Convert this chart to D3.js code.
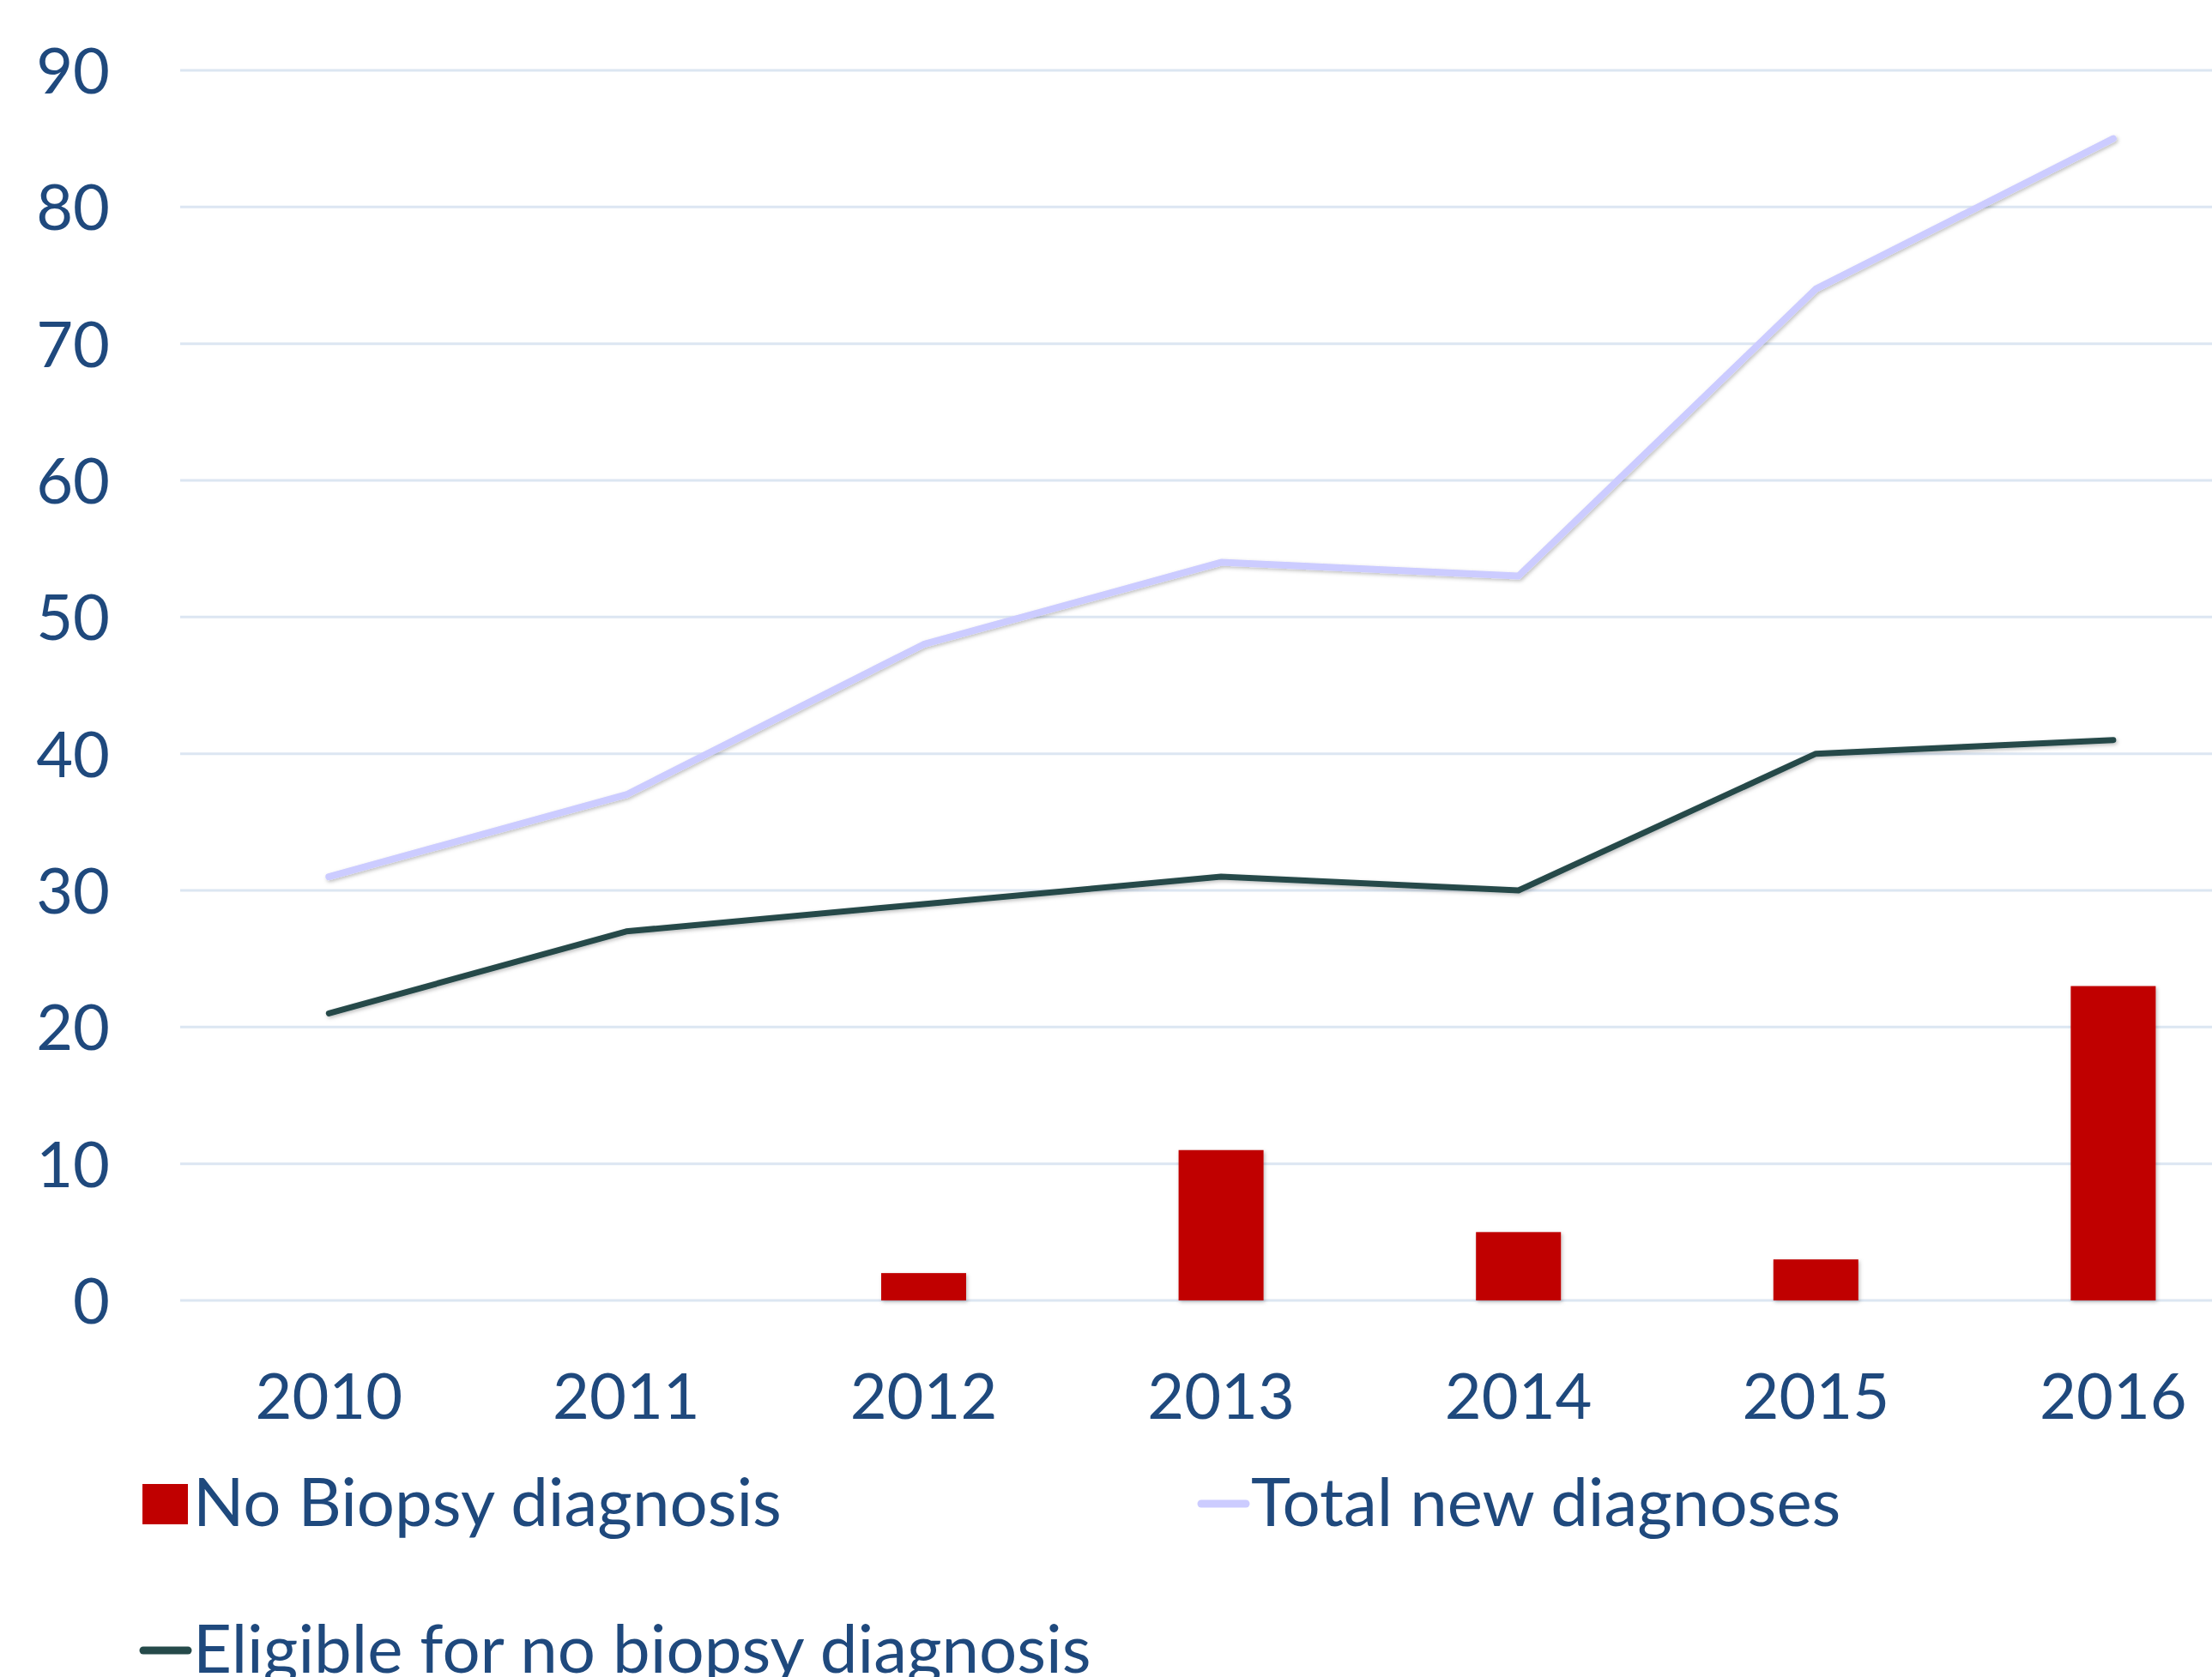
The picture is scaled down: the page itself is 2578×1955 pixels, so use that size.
<!DOCTYPE html>
<html>
<head>
<meta charset="utf-8">
<script src="https://cdn.jsdelivr.net/npm/d3@7"></script>
<style>
	body{ margin: 0; background: #fff; }
	svg text{ font-family: Lato, "Open Sans", sans-serif; fill: #1F497D; }
</style>
</head>
<body>
<div id="chart"></div>
<script>
	const years = ["2010","2011","2012","2013","2014","2015","2016"];
	const noBiopsy = [0, 0, 2, 11, 5, 3, 23];
	const totalNew = [31, 37, 48, 54, 53, 74, 85];
	const eligible = [21, 27, 29, 31, 30, 40, 41];
	const yTicks = [0,10,20,30,40,50,60,70,80,90];

	const W = 2578, H = 1955;
	const margin = {top: 82, left: 210};
	const bandW = 346.6;

	let svg = d3.select("#chart").append("svg")
		.attr("width", W).attr("height", H);

	const defs = svg.append("defs");
	defs.append("filter").attr("id","shadow")
		.attr("x","-20%").attr("y","-20%").attr("width","140%").attr("height","140%")
		.append("feDropShadow")
			.attr("dx",1.5).attr("dy",2).attr("stdDeviation",2)
			.attr("flood-color","#000").attr("flood-opacity",0.25);

	let x = d3.scaleBand().domain(years)
		.range([margin.left, margin.left + bandW*years.length]);
	let y = d3.scaleLinear().domain([0, 90]).range([1516, margin.top]);

	// gridlines
	svg.append("g")
		.selectAll("line").data(yTicks).enter().append("line")
			.attr("x1", margin.left).attr("x2", W)
			.attr("y1", d => y(d)).attr("y2", d => y(d))
			.attr("stroke", "#DCE6F2").attr("stroke-width", 3);

	// y axis labels
	let yAxis = svg.append("g")
		.attr("transform", "translate(128,0)")
		.call(d3.axisLeft(y).tickValues(yTicks).tickSize(0).tickPadding(0));
	yAxis.select(".domain").remove();
	yAxis.selectAll("text")
		.attr("font-size", 74).attr("dy", "0.36em")
		.style("font-family", "Lato, sans-serif").attr("fill", "#1F497D");

	// x axis labels
	let xAxis = svg.append("g")
		.attr("transform", "translate(0,1654)")
		.call(d3.axisBottom(x).tickSize(0).tickPadding(0));
	xAxis.select(".domain").remove();
	xAxis.selectAll("text")
		.attr("font-size", 74).attr("dy", 0).attr("y", 0)
		.style("font-family", "Lato, sans-serif").attr("fill", "#1F497D");

	// bars
	const barW = 99;
	svg.append("g").selectAll("rect")
		.data(years.map((yr,i)=>({yr, v: noBiopsy[i]})).filter(d => d.v > 0))
		.enter().append("rect")
			.attr("x", d => x(d.yr) + x.bandwidth()/2 - barW/2)
			.attr("width", barW)
			.attr("y", d => y(d.v))
			.attr("height", d => y(0) - y(d.v))
			.attr("fill", "#C00000")
			.attr("filter", "url(#shadow)");

	const line = d3.line()
		.x((d,i) => x(years[i]) + x.bandwidth()/2)
		.y(d => y(d));

	svg.append("path").datum(totalNew)
		.attr("d", line).attr("fill","none")
		.attr("stroke","#CCCCFF").attr("stroke-width",8)
		.attr("stroke-linejoin","round").attr("stroke-linecap","round")
		.attr("filter","url(#shadow)");

	svg.append("path").datum(eligible)
		.attr("d", line).attr("fill","none")
		.attr("stroke","#254A4A").attr("stroke-width",7)
		.attr("stroke-linejoin","round").attr("stroke-linecap","round")
		.attr("filter","url(#shadow)");

	// legend
	let lg = svg.append("g");
	lg.append("rect").attr("x",166).attr("y",1730).attr("width",53).attr("height",47)
		.attr("fill","#C00000");
	lg.append("text").attr("x",225).attr("y",1779).attr("font-size",78)
		.text("No Biopsy diagnosis");

	lg.append("line").attr("x1",1400).attr("x2",1452).attr("y1",1753).attr("y2",1753)
		.attr("stroke","#CCCCFF").attr("stroke-width",9).attr("stroke-linecap","round");
	lg.append("text").attr("x",1458).attr("y",1779).attr("font-size",78)
		.text("Total new diagnoses");

	lg.append("line").attr("x1",167).attr("x2",219).attr("y1",1924).attr("y2",1924)
		.attr("stroke","#254A4A").attr("stroke-width",9).attr("stroke-linecap","round");
	lg.append("text").attr("x",225).attr("y",1950).attr("font-size",78)
		.text("Eligible for no biopsy diagnosis");
</script>
</body>
</html>
